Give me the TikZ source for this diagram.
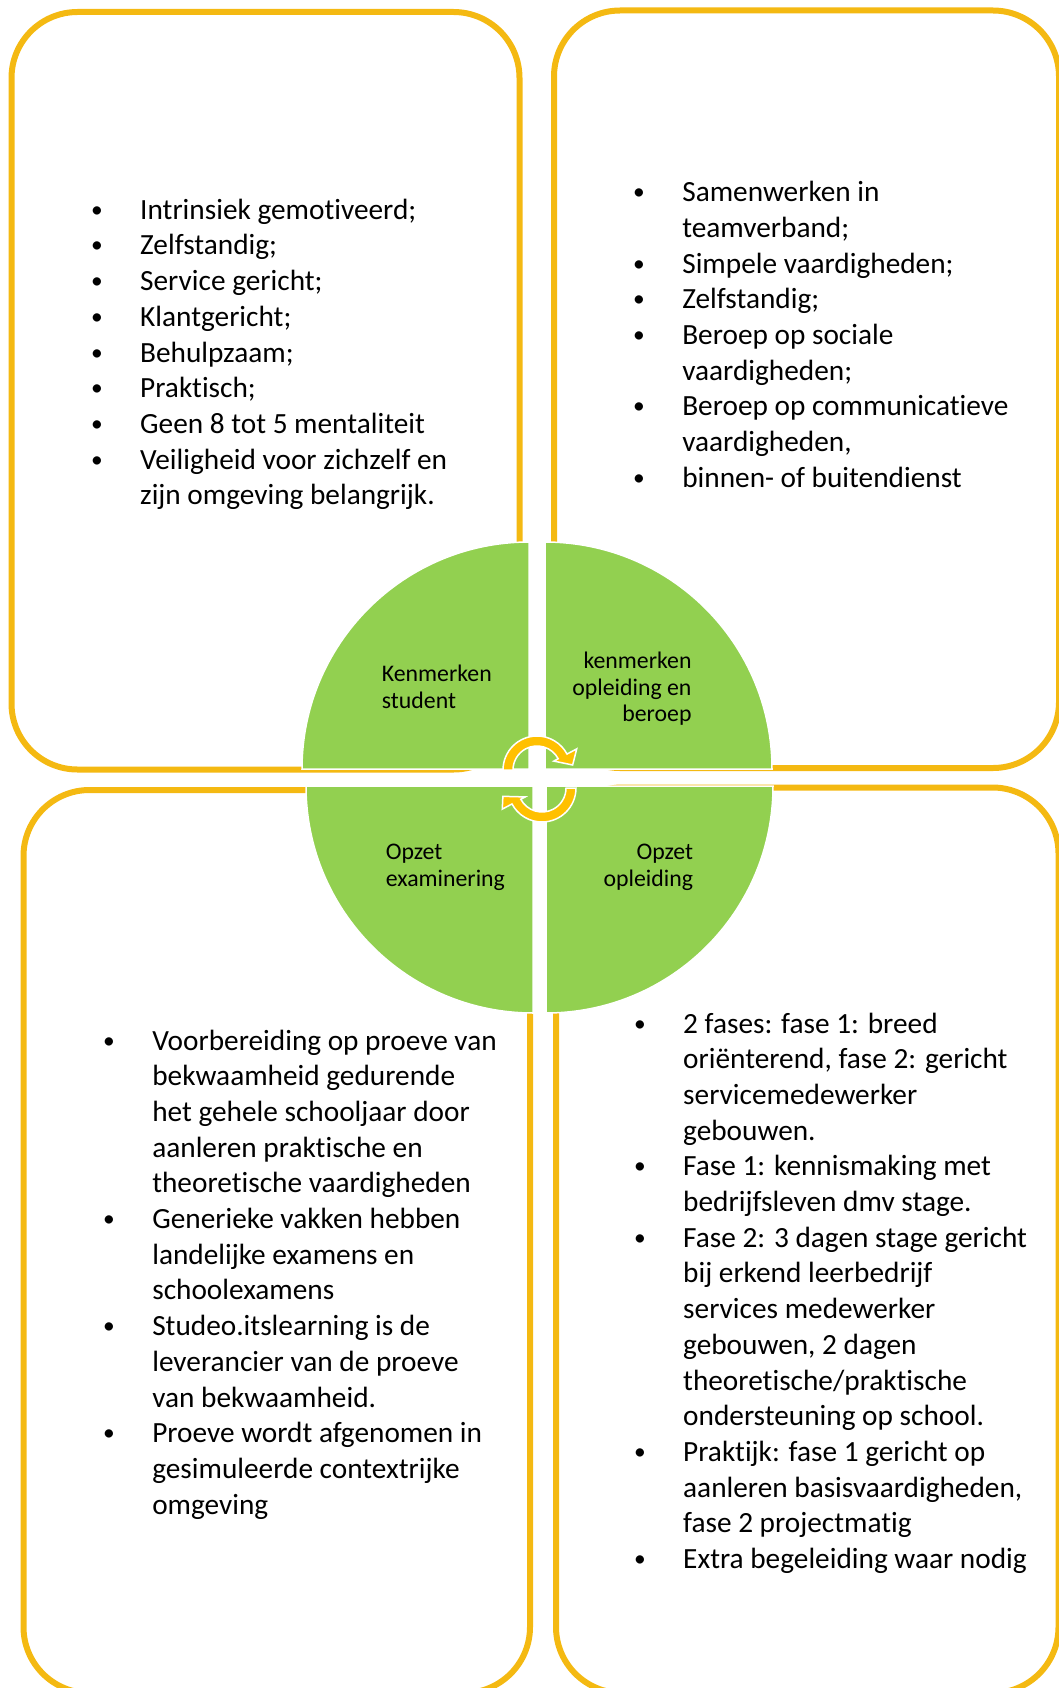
\documentclass[tikz,border=0pt]{standalone}
\usepackage{graphicx}
\usepackage{fontspec}
\setmainfont{Carlito}[Ligatures={TeX,NoCommon}]
\definecolor{panelgold}{RGB}{244,185,18}
\definecolor{arrowgold}{RGB}{255,192,0}
\definecolor{quadgreen}{RGB}{146,208,80}
\newcommand{\bul}{\makebox[86.6pt][c]{\raisebox{2pt}{\scalebox{0.8}{\textbullet}}}}

\begin{document}
\begin{tikzpicture}[x=1pt, y=-1pt,
    panel/.style={draw=panelgold, line width=6pt, rounded corners=66pt},
    quarter/.style={fill=quadgreen, draw=white, line width=1.5pt},
    cyclearrow/.style={fill=arrowgold, draw=white, line width=1.5pt},
    itemlist/.style={anchor=base west, inner sep=0pt, font=\fontsize{29.3}{35.7}\selectfont},
    quadlabel/.style={inner sep=0pt, font=\fontsize{23.8}{26.7}\selectfont}]
    \useasboundingbox (0,0) rectangle (1059,1688);

    % Outer panels
    \draw[panel] (11.5,12) rectangle (519.5,769.5);
    \draw[panel] (554,10.5) rectangle (1059,768);
    \draw[panel] (23.5,790) rectangle (530,1693);
    \draw[panel] (556,787.5) rectangle (1058.5,1693);

    % Circle in four quarters
    \draw[quarter] (529,769) -- (302,769) arc[start angle=180, end angle=270, radius=227] -- cycle;
    \draw[quarter] (545,769) -- (545,542) arc[start angle=270, end angle=360, radius=227] -- cycle;
    \draw[quarter] (533,786) -- (533,1013) arc[start angle=90, end angle=180, radius=227] -- cycle;
    \draw[quarter] (546,786) -- (773,786) arc[start angle=0, end angle=90, radius=227] -- cycle;

    % Cycle arrows in the middle
    \begin{scope}[shift={(537,770)}]
        \draw[cyclearrow] (180:34) arc[start angle=180, end angle=332, radius=34] -- (332:45) -- (352:36)
            -- (332:19) -- (332:24) arc[start angle=332, end angle=180, radius=24] -- cycle;
    \end{scope}
    \begin{scope}[shift={(542,788)}]
        \draw[cyclearrow] (0:34) arc[start angle=0, end angle=152, radius=34] -- (152:45) -- (168:40)
            -- (152:19) -- (152:24) arc[start angle=152, end angle=0, radius=24] -- cycle;
    \end{scope}

    % Quarter labels
    \node[quadlabel, anchor=base west] (student) at (381.7,681.7)
        {\begin{tabular}[t]{@{}l@{}}Kenmerken\\student\end{tabular}};
    \node[quadlabel, anchor=base east] (beroep) at (691.7,668.3)
        {\begin{tabular}[t]{@{}r@{}}kenmerken\\opleiding en\\beroep\end{tabular}};
    \node[quadlabel, anchor=base west] (examen) at (385.7,859.3)
        {\begin{tabular}[t]{@{}l@{}}Opzet\\examinering\end{tabular}};
    \node[quadlabel, anchor=base east] (opleiding) at (693.3,859.3)
        {\begin{tabular}[t]{@{}r@{}}Opzet\\opleiding\end{tabular}};

    % Bullet lists
    \node[itemlist] (studentlist) at (53.4,219.3) {\begin{tabular}[t]{@{}l@{}l@{}}
        \bul & Intrinsiek gemotiveerd;\\
        \bul & Zelfstandig;\\
        \bul & Service gericht;\\
        \bul & Klantgericht;\\
        \bul & Behulpzaam;\\
        \bul & Praktisch;\\
        \bul & Geen 8 tot 5 mentaliteit\\
        \bul & Veiligheid voor zichzelf en\\
             & zijn omgeving belangrijk.
    \end{tabular}};
    \node[itemlist] (beroeplist) at (595.5,201.7) {\begin{tabular}[t]{@{}l@{}l@{}}
        \bul & Samenwerken in\\
             & teamverband;\\
        \bul & Simpele vaardigheden;\\
        \bul & Zelfstandig;\\
        \bul & Beroep op sociale\\
             & vaardigheden;\\
        \bul & Beroep op communicatieve\\
             & vaardigheden,\\
        \bul & binnen- of buitendienst
    \end{tabular}};
    \node[itemlist] (examenlist) at (65.5,1050) {\begin{tabular}[t]{@{}l@{}l@{}}
        \bul & Voorbereiding op proeve van\\
             & bekwaamheid gedurende\\
             & het gehele schooljaar door\\
             & aanleren praktische en\\
             & theoretische vaardigheden\\
        \bul & Generieke vakken hebben\\
             & landelijke examens en\\
             & schoolexamens\\
        \bul & Studeo.itslearning is de\\
             & leverancier van de proeve\\
             & van bekwaamheid.\\
        \bul & Proeve wordt afgenomen in\\
             & gesimuleerde contextrijke\\
             & omgeving
    \end{tabular}};
    \node[itemlist] (opleidinglist) at (596.4,1033) {\begin{tabular}[t]{@{}l@{}l@{}}
        \bul & 2 fases: fase 1: breed\\
             & oriënterend, fase 2: gericht\\
             & servicemedewerker\\
             & gebouwen.\\
        \bul & Fase 1: kennismaking met\\
             & bedrijfsleven dmv stage.\\
        \bul & Fase 2: 3 dagen stage gericht\\
             & bij erkend leerbedrijf\\
             & services medewerker\\
             & gebouwen, 2 dagen\\
             & theoretische/praktische\\
             & ondersteuning op school.\\
        \bul & Praktijk: fase 1 gericht op\\
             & aanleren basisvaardigheden,\\
             & fase 2 projectmatig\\
        \bul & Extra begeleiding waar nodig
    \end{tabular}};
\end{tikzpicture}
\end{document}
